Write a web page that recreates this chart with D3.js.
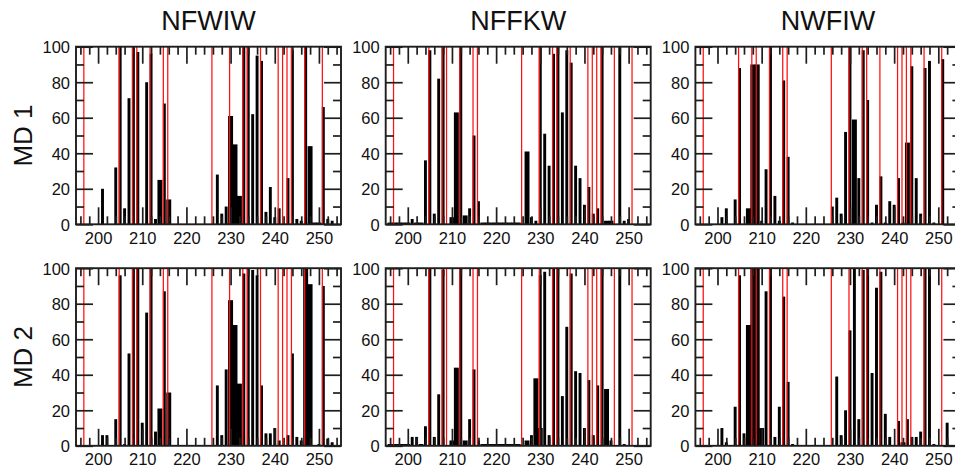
<!DOCTYPE html>
<html>
<head>
<meta charset="utf-8">
<script src="https://cdn.jsdelivr.net/npm/d3@7"></script>
<style>
  body { margin: 0; background: #fff; }
  svg { display: block; font-family: "Liberation Sans", Arial, Helvetica, sans-serif; }
</style>
</head>
<body>
<svg id="chart" width="955" height="469"></svg>
<script>
// Column titles (systems) and row titles (simulation runs)
const systems = ["NFWIW", "NFFKW", "NWFIW"];
const runs = ["MD 1", "MD 2"];

// Residues marked with red reference lines (same in every panel)
const markedResidues = [197, 205, 208, 209, 212, 215, 216, 226, 230, 233, 234, 237, 241, 242, 243, 244, 247, 251];

// Axis ticks
const xMajorTicks = [200, 210, 220, 230, 240, 250];
const xMinorTicks = [196, 198, 202, 204, 206, 208, 212, 214, 216, 218, 222, 224, 226, 228, 232, 234, 236, 238, 242, 244, 246, 248, 252, 254];
const yMajorTicks = [0, 20, 40, 60, 80, 100];
const yMinorTicks = [10, 30, 50, 70, 90];

// Occupancy (%) per residue: [residue, value].
// "Peak" bars are single-set values, "core" bars are overlapping sets drawn wider.
const nfwiwMd1Peak = [[201,20],[204,32],[205,100],[206,9],[207,71],[208,100],[209,97],[211,80],[212,96],[213,3],[215,68],[227,28],[228,6],[229,10],[233,100],[234,100],[235,62],[236,95],[237,92],[238,7],[239,21],[240,4],[241,9],[243,26],[244,98],[245,3],[246,2],[247,100],[251,66],[252,3],[253,2]];
const nfwiwMd1Core = [[214,25],[216,14],[230,61],[231,45],[232,16],[248,44],[249,1],[250,1]];

const nffkwMd1Peak = [[201,3],[204,36],[205,98],[206,6],[207,82],[208,100],[212,100],[214,9],[215,50],[216,13],[228,4],[229,2],[230,100],[231,51],[232,33],[233,96],[234,100],[235,63],[236,98],[237,91],[238,33],[239,26],[240,11],[241,21],[242,6],[243,9],[244,100],[248,100],[249,2],[250,3]];
const nffkwMd1Core = [[196,1],[197,1],[198,1],[199,1],[200,1],[202,1],[203,1],[210,4],[211,63],[213,5],[217,1],[218,1],[219,1],[220,1],[221,1],[222,1],[223,1],[224,1],[225,1],[227,41],[245,2],[246,2]];

const nwfiwMd1Peak = [[201,4],[202,9],[204,14],[205,88],[210,2],[211,31],[212,100],[213,16],[214,2],[215,81],[216,38],[217,1],[226,10],[227,15],[228,6],[229,52],[230,100],[232,26],[233,98],[234,70],[235,1],[236,11],[237,27],[238,1],[239,13],[240,11],[241,26],[242,1],[244,89],[245,26],[246,6],[247,88],[248,92],[249,1],[251,93]];
const nwfiwMd1Core = [[207,9],[208,90],[209,90],[231,59],[243,46]];

const nfwiwMd2Peak = [[201,6],[202,6],[204,15],[205,96],[206,1],[207,52],[208,100],[209,100],[210,13],[211,75],[212,100],[213,8],[215,87],[227,34],[228,6],[229,43],[233,97],[234,100],[235,99],[236,96],[237,34],[238,7],[239,7],[240,10],[241,3],[243,6],[244,52],[245,5],[246,3],[250,1],[251,90],[252,4],[253,2]];
const nfwiwMd2Core = [[214,21],[216,30],[230,82],[231,68],[232,35],[247,100],[248,91]];

const nffkwMd2Peak = [[201,5],[202,5],[204,11],[205,100],[206,5],[207,29],[208,99],[212,100],[214,15],[215,43],[216,3],[228,6],[230,96],[231,98],[232,6],[233,100],[234,100],[235,28],[236,67],[237,97],[238,42],[239,41],[240,10],[241,37],[242,6],[243,34],[244,100],[246,3],[248,100],[249,1]];
const nffkwMd2Core = [[196,1],[197,1],[198,1],[199,1],[200,1],[203,1],[210,3],[211,44],[213,3],[217,1],[218,1],[219,1],[220,1],[221,1],[222,1],[223,1],[224,1],[225,1],[227,3],[229,38],[230,10],[245,32]];

const nwfiwMd2Peak = [[201,10],[202,2],[204,22],[205,96],[206,7],[211,87],[212,100],[213,5],[214,22],[215,84],[216,36],[217,1],[227,39],[228,6],[229,20],[230,65],[231,100],[232,15],[233,99],[234,100],[235,41],[236,89],[237,98],[238,18],[239,5],[241,14],[243,15],[244,5],[245,5],[246,8],[247,100],[248,100],[249,1],[252,13]];
const nwfiwMd2Core = [[207,68],[208,100],[209,100],[210,10],[242,2]];

const panels = [
  { row: 0, col: 0, peak: nfwiwMd1Peak, core: nfwiwMd1Core },
  { row: 0, col: 1, peak: nffkwMd1Peak, core: nffkwMd1Core },
  { row: 0, col: 2, peak: nwfiwMd1Peak, core: nwfiwMd1Core },
  { row: 1, col: 0, peak: nfwiwMd2Peak, core: nfwiwMd2Core },
  { row: 1, col: 1, peak: nffkwMd2Peak, core: nffkwMd2Core },
  { row: 1, col: 2, peak: nwfiwMd2Peak, core: nwfiwMd2Core }
];

// Layout
const panelW = 265, panelH = 177.6;
const colLeft = [76, 385.7, 695.4];
const rowTop = [46.7, 268.2];
const frameColor = "#1e1e1e";
const majorLen = 17, minorLen = 8;
const labelFont = "\"Liberation Sans\", Arial, Helvetica, sans-serif";

const svg = d3.select("#chart");

const x = d3.scaleLinear().domain([195, 255]).range([0, panelW]);
const y = d3.scaleLinear().domain([0, 100]).range([panelH, 0]);
const unit = x(196) - x(195);
const peakW = unit * 0.66;
const coreW = unit * 1.12;
const markShift = -1.0; // reference line sits at the left edge of its residue bar

// Column titles
systems.forEach((s, i) => {
  svg.append("text")
    .attr("x", colLeft[i] + panelW / 2)
    .attr("y", 30)
    .attr("text-anchor", "middle")
    .attr("font-size", 27)
    .attr("fill", "#111")
    .text(s);
});

// Row titles
runs.forEach((r, i) => {
  const cy = rowTop[i] + panelH / 2;
  svg.append("text")
    .attr("transform", `translate(32,${cy}) rotate(-90)`)
    .attr("text-anchor", "middle")
    .attr("font-size", 26)
    .attr("fill", "#111")
    .text(r);
});

function styleAxis(g) {
  g.select(".domain").remove();
  g.selectAll(".tick line").attr("stroke", frameColor).attr("stroke-width", 1.7);
  g.selectAll(".tick text").attr("fill", "#111").attr("font-size", 16.5)
    .attr("font-family", labelFont);
}

panels.forEach(p => {
  const g = svg.append("g").attr("transform", `translate(${colLeft[p.col]},${rowTop[p.row]})`);

  // Wide (overlapping) bars
  g.selectAll("rect.core").data(p.core).enter().append("rect")
    .attr("class", "core")
    .attr("x", d => x(d[0]) - coreW / 2)
    .attr("width", coreW)
    .attr("y", d => y(d[1]))
    .attr("height", d => y(0) - y(d[1]))
    .attr("fill", "#000");

  // Single-set bars
  g.selectAll("rect.peak").data(p.peak).enter().append("rect")
    .attr("class", "peak")
    .attr("x", d => x(d[0]) - peakW / 2)
    .attr("width", peakW)
    .attr("y", d => y(d[1]))
    .attr("height", d => y(0) - y(d[1]))
    .attr("fill", "#000");

  // Reference lines
  g.selectAll("line.mark").data(markedResidues).enter().append("line")
    .attr("class", "mark")
    .attr("x1", d => x(d) + markShift).attr("x2", d => x(d) + markShift)
    .attr("y1", 0).attr("y2", panelH)
    .attr("stroke", "#ff1010")
    .attr("stroke-width", 1.25);

  // Ticks pointing inwards on all four sides
  g.append("g").attr("transform", `translate(0,${panelH})`)
    .call(d3.axisBottom(x).tickValues(xMajorTicks).tickSize(-majorLen).tickFormat(d3.format("d")))
    .call(styleAxis)
    .call(a => a.selectAll(".tick text").attr("y", 0).attr("dy", 0).attr("transform", "translate(0,19.5)"));
  g.append("g").attr("transform", `translate(0,${panelH})`)
    .call(d3.axisBottom(x).tickValues(xMinorTicks).tickSize(-minorLen).tickFormat(""))
    .call(styleAxis);
  g.append("g")
    .call(d3.axisTop(x).tickValues(xMajorTicks).tickSize(-majorLen).tickFormat(""))
    .call(styleAxis);
  g.append("g")
    .call(d3.axisTop(x).tickValues(xMinorTicks).tickSize(-minorLen).tickFormat(""))
    .call(styleAxis);
  g.append("g")
    .call(d3.axisLeft(y).tickValues(yMajorTicks).tickSize(-majorLen).tickFormat(d3.format("d")))
    .call(styleAxis)
    .call(a => a.selectAll(".tick text").attr("x", -6).attr("dy", "0.36em"));
  g.append("g")
    .call(d3.axisLeft(y).tickValues(yMinorTicks).tickSize(-minorLen).tickFormat(""))
    .call(styleAxis);
  g.append("g").attr("transform", `translate(${panelW},0)`)
    .call(d3.axisRight(y).tickValues(yMajorTicks).tickSize(-majorLen).tickFormat(""))
    .call(styleAxis);
  g.append("g").attr("transform", `translate(${panelW},0)`)
    .call(d3.axisRight(y).tickValues(yMinorTicks).tickSize(-minorLen).tickFormat(""))
    .call(styleAxis);

  // Frame
  g.append("rect")
    .attr("x", 0).attr("y", 0)
    .attr("width", panelW).attr("height", panelH)
    .attr("fill", "none")
    .attr("stroke", frameColor)
    .attr("stroke-width", 1.9);
});
</script>
</body>
</html>
